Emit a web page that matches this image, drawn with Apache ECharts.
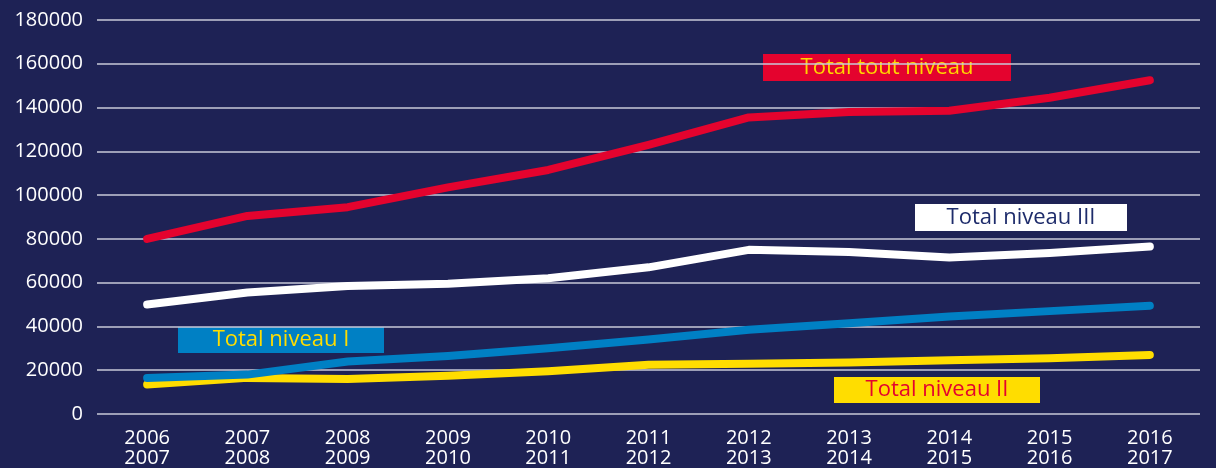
<!DOCTYPE html>
<html>
<head>
<meta charset="utf-8">
<script src="https://cdn.jsdelivr.net/npm/echarts@6/dist/echarts.min.js"></script>
<style>
html,body{margin:0;padding:0;background:#1e2255;overflow:hidden;}
#c{width:1216px;height:468px;}
</style>
</head>
<body>
<div id="c"></div>
<script>
const categories = ['2006\n2007','2007\n2008','2008\n2009','2009\n2010','2010\n2011','2011\n2012','2012\n2013','2013\n2014','2014\n2015','2015\n2016','2016\n2017'];
const totalToutNiveau = [80000, 90500, 94500, 103500, 111500, 123000, 135500, 138000, 138500, 144500, 152500];
const totalNiveauIII = [50000, 55500, 58500, 59500, 62000, 67000, 75000, 74000, 71500, 73500, 76500];
const totalNiveauI = [16500, 18000, 24000, 26500, 30000, 34000, 38500, 41500, 44500, 47000, 49500];
const totalNiveauII = [13500, 16500, 16000, 17500, 19500, 22500, 23000, 23500, 24500, 25500, 27000];
const yTicks = {min: 0, max: 180000, interval: 20000};

const FONT = '"Open Sans", sans-serif';
function lineSeries(name, data, color, z) {
  return {
    name, type: 'line', data, z,
    symbol: 'none', smooth: false,
    lineStyle: {color, width: 8, cap: 'round', join: 'round'},
    emphasis: {disabled: true}
  };
}
function box(x, y, w, h, bg, fg, text) {
  return {
    type: 'group', left: x, top: y, children: [
      {type: 'rect', shape: {x: 0, y: 0, width: w, height: h}, style: {fill: bg}},
      {type: 'text', x: w / 2, y: h / 2, style: {text, fill: fg, fontSize: 22, fontFamily: 'Open Sans', align: 'center', verticalAlign: 'middle'}}
    ]
  };
}
const chart = echarts.init(document.getElementById('c'));
chart.setOption({
  backgroundColor: '#1e2255',
  animation: false,
  grid: {left: 97, right: 16, top: 20, bottom: 53},
  xAxis: {
    type: 'category', data: categories, boundaryGap: true,
    axisLine: {show: false}, axisTick: {show: false},
    axisLabel: {color: '#ffffff', fontFamily: FONT, fontSize: 20, lineHeight: 20, margin: 14, interval: 0}
  },
  yAxis: {
    type: 'value', min: yTicks.min, max: yTicks.max, interval: yTicks.interval,
    axisLine: {show: false}, axisTick: {show: false},
    axisLabel: {color: '#ffffff', fontFamily: FONT, fontSize: 20, margin: 14, formatter: v => String(v)},
    splitLine: {show: true, lineStyle: {color: '#c9cad8', width: 1.5}}
  },
  series: [
    lineSeries('Total niveau II', totalNiveauII, '#ffdd00', 2),
    lineSeries('Total niveau I', totalNiveauI, '#0080c4', 3),
    lineSeries('Total niveau III', totalNiveauIII, '#ffffff', 4),
    lineSeries('Total tout niveau', totalToutNiveau, '#e4032e', 5)
  ],
  graphic: [
    box(763, 54, 248, 27, '#e4032e', '#ffd500', 'Total tout niveau'),
    box(915, 204, 212, 27, '#ffffff', '#1e2c6b', 'Total niveau III'),
    box(178, 327, 206, 26, '#0080c4', '#ffdd00', 'Total niveau I'),
    box(834, 377, 206, 26, '#ffdd00', '#e4032e', 'Total niveau II')
  ]
});
</script>
</body>
</html>
